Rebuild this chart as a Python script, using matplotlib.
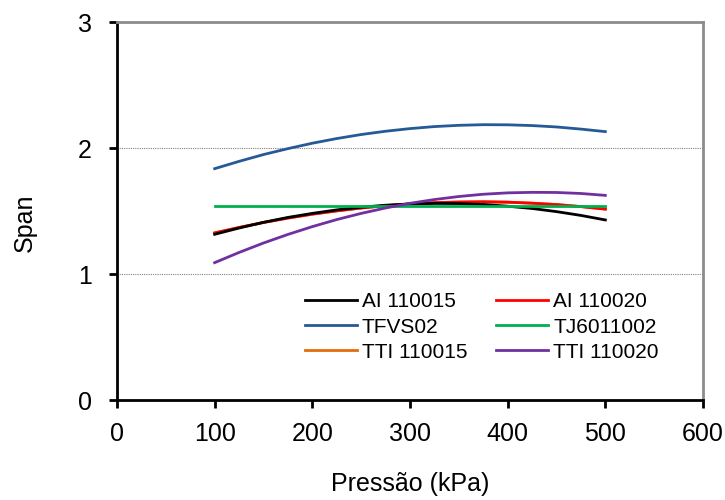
import matplotlib
matplotlib.use("Agg")
import matplotlib.pyplot as plt

plt.rcParams["font.family"] = ["Liberation Sans", "DejaVu Sans"]

# Pressure levels (kPa) and fitted span per nozzle
pressao = [100, 125, 150, 175, 200, 225, 250, 275, 300,
           325, 350, 375, 400, 425, 450, 475, 500]

ai_110015 = [1.315, 1.365, 1.410, 1.449, 1.481, 1.509, 1.530, 1.546, 1.556,
             1.560, 1.559, 1.552, 1.538, 1.520, 1.495, 1.465, 1.429]
ai_110020 = [1.326, 1.369, 1.409, 1.444, 1.475, 1.501, 1.524, 1.542, 1.556,
             1.566, 1.571, 1.573, 1.570, 1.562, 1.551, 1.535, 1.515]
tfvs02 = [1.836, 1.894, 1.948, 1.995, 2.038, 2.075, 2.107, 2.133, 2.154,
          2.170, 2.180, 2.185, 2.184, 2.178, 2.167, 2.150, 2.130]
tj6011002 = [1.542] * 17
tti_110015 = [1.326, 1.369, 1.409, 1.444, 1.475, 1.501, 1.524, 1.542, 1.556,
              1.566, 1.571, 1.573, 1.570, 1.562, 1.551, 1.535, 1.515]
tti_110020 = [1.090, 1.171, 1.246, 1.314, 1.376, 1.432, 1.481, 1.524, 1.561,
              1.591, 1.615, 1.633, 1.644, 1.648, 1.647, 1.639, 1.624]

series = [
    ("AI 110015", ai_110015, "#000000"),
    ("AI 110020", ai_110020, "#FF0000"),
    ("TFVS02", tfvs02, "#255A96"),
    ("TJ6011002", tj6011002, "#00B050"),
    ("TTI 110015", tti_110015, "#E46C0A"),
    ("TTI 110020", tti_110020, "#7030A0"),
]

# orange sits underneath the red curve
zorders = {"TTI 110015": 2, "AI 110020": 3}

fig = plt.figure(figsize=(7.25, 5), dpi=100)
ax = fig.add_axes([117 / 725, 100 / 500, 586 / 725, 378 / 500])

handles = []
for name, vals, color in series:
    h, = ax.plot(pressao, vals, color=color, linewidth=2.0, label=name,
                 zorder=zorders.get(name, 4))
    handles.append(h)

ax.set_xlim(0, 600)
ax.set_ylim(0, 3)
ax.set_xticks(range(0, 601, 100))
ax.set_yticks([0, 1, 2, 3])

# dotted reference lines at the inner y ticks
for y in (1, 2):
    ax.axhline(y, color="#808080", linestyle=(0, (1, 1)), linewidth=0.8, zorder=1)

for side in ("left", "bottom"):
    ax.spines[side].set_color("black")
    ax.spines[side].set_linewidth(2.0)
for side in ("top", "right"):
    ax.spines[side].set_color("#8C8C8C")
    ax.spines[side].set_linewidth(2.0)

ax.tick_params(axis="both", direction="out", length=6, width=2.0,
               labelsize=18, color="black")
ax.tick_params(axis="x", pad=10)
ax.tick_params(axis="y", pad=12)

ax.set_xlabel("Pressão (kPa)", fontsize=18)
ax.set_ylabel("Span", fontsize=18)
ax.xaxis.set_label_coords(0.5, -0.19)
ax.yaxis.set_label_coords(-0.136, 0.47)

# legend is filled column by column, so reorder to read row by row
order = [0, 2, 4, 1, 3, 5]
leg = ax.legend(
    [handles[i] for i in order],
    [series[i][0] for i in order],
    ncol=2,
    loc="upper left",
    bbox_to_anchor=(0.32, 0.285),
    frameon=False,
    fontsize=15,
    handlelength=2.5,
    handletextpad=0.25,
    columnspacing=1.37,
    labelspacing=0.3,
    borderpad=0,
    borderaxespad=0,
)
for line in leg.get_lines():
    line.set_linewidth(2.0)

fig.savefig("out.png", dpi=100)
